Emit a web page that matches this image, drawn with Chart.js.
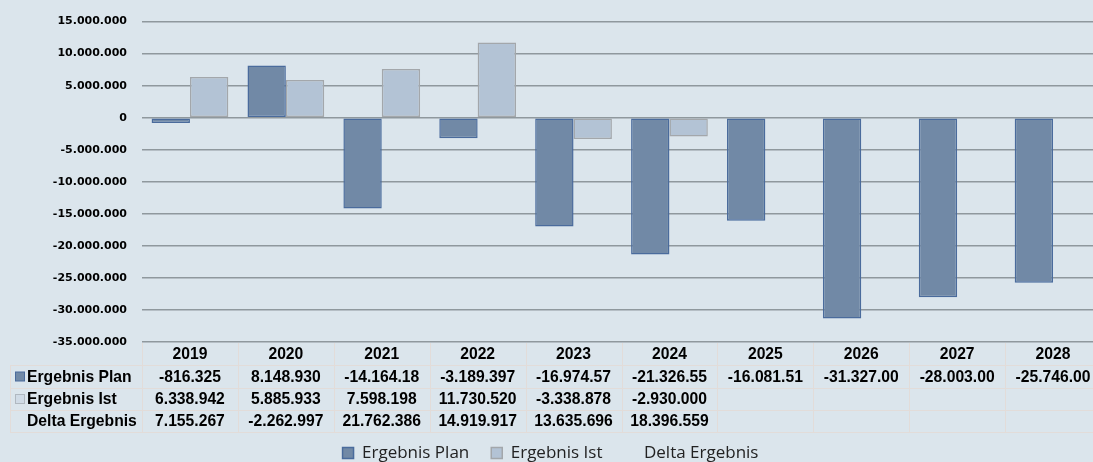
<!DOCTYPE html>
<html>
<head>
<meta charset="utf-8">
<script src="https://cdn.jsdelivr.net/npm/chart.js@4.4.1/dist/chart.umd.min.js"></script>
<style>
  html, body { margin: 0; padding: 0; overflow: hidden; background: #dbe5ec; }
  #wrap { width: 1102px; height: 462px; }
</style>
</head>
<body>
<div id="wrap"><canvas id="chart" width="1102" height="462"></canvas></div>
<script>
// Jahre und Werte aus dem Excel-Diagramm
const years = ["2019", "2020", "2021", "2022", "2023", "2024", "2025", "2026", "2027", "2028"];
const ergebnisPlan = [-816325, 8148930, -14164180, -3189397, -16974570, -21326550, -16081510, -31327000, -28003000, -25746000];
const ergebnisIst = [6338942, 5885933, 7598198, 11730520, -3338878, -2930000, null, null, null, null];
const deltaErgebnis = [7155267, -2262997, 21762386, 14919917, 13635696, 18396559, null, null, null, null];

const seriesNames = ["Ergebnis Plan", "Ergebnis Ist", "Delta Ergebnis"];
const planColor = "#7189a6";
const planBorder = "#4a6b9c";
const istColor = "#b3c3d5";
const istBorder = "#a3a7ab";

// Excel schneidet zu lange Zellinhalte ab
function cellText(v) {
  if (v === null || v === undefined) return "";
  return v.toLocaleString("de-DE").slice(0, 10);
}

// Hintergrund
const background = {
  id: "background",
  beforeDraw(chart) {
    const ctx = chart.ctx;
    ctx.save();
    ctx.fillStyle = "#dbe5ec";
    ctx.fillRect(0, 0, chart.width, chart.height);
    ctx.restore();
  }
};

// Datentabelle unter der Achse
const dataTable = {
  id: "dataTable",
  afterDraw(chart) {
    const ctx = chart.ctx;
    const x = chart.scales.x;
    const area = chart.chartArea;
    const colW = (area.right - area.left) / years.length;
    const rows = [area.bottom, area.bottom + 23, area.bottom + 46, area.bottom + 68, area.bottom + 90];
    const labelLeft = 10;

    ctx.save();
    ctx.strokeStyle = "#e2dcd9";
    ctx.lineWidth = 1;
    ctx.beginPath();
    for (let r = 1; r < rows.length; r++) {
      ctx.moveTo(labelLeft, rows[r] + 0.5);
      ctx.lineTo(chart.width, rows[r] + 0.5);
    }
    for (let i = 0; i <= years.length; i++) {
      const cx = Math.round(area.left + i * colW) + 0.5;
      ctx.moveTo(cx, rows[0] + 1);
      ctx.lineTo(cx, rows[4]);
    }
    ctx.moveTo(labelLeft + 0.5, rows[1]);
    ctx.lineTo(labelLeft + 0.5, rows[4]);
    ctx.stroke();

    ctx.fillStyle = "#000";
    ctx.font = "bold 15.7px 'Liberation Sans', Arial, sans-serif";
    ctx.textBaseline = "middle";
    ctx.textAlign = "center";
    const rowValues = [ergebnisPlan, ergebnisIst, deltaErgebnis];
    years.forEach((y, i) => {
      const cx = x.getPixelForValue(i);
      ctx.fillText(y, cx, (rows[0] + rows[1]) / 2 + 1);
      rowValues.forEach((vals, r) => {
        ctx.fillText(cellText(vals[i]), cx, (rows[r + 1] + rows[r + 2]) / 2 + 1);
      });
    });

    // Zeilenbeschriftungen mit Legendensymbol
    ctx.textAlign = "left";
    const keys = [[planColor, planBorder], ["#d0dbe6", "#b0b8c0"], null];
    seriesNames.forEach((name, r) => {
      const cy = (rows[r + 1] + rows[r + 2]) / 2;
      if (keys[r]) {
        ctx.fillStyle = keys[r][0];
        ctx.strokeStyle = keys[r][1];
        ctx.fillRect(15.5, cy - 4.5, 9, 9);
        ctx.strokeRect(15.5, cy - 4.5, 9, 9);
      }
      ctx.fillStyle = "#000";
      ctx.fillText(name, 27, cy + 1);
    });
    ctx.restore();
  }
};

new Chart(document.getElementById("chart"), {
  type: "bar",
  data: {
    labels: years,
    datasets: [
      {
        label: seriesNames[0],
        data: ergebnisPlan,
        backgroundColor: planColor,
        borderColor: planBorder,
        borderWidth: 1.5,
        borderSkipped: false
      },
      {
        label: seriesNames[1],
        data: ergebnisIst,
        backgroundColor: istColor,
        borderColor: istBorder,
        borderWidth: 1.5,
        borderSkipped: false
      },
      {
        type: "line",
        label: seriesNames[2],
        data: deltaErgebnis,
        showLine: false,
        pointRadius: 0,
        backgroundColor: "rgba(0,0,0,0)",
        borderColor: "rgba(0,0,0,0)"
      }
    ]
  },
  options: {
    responsive: false,
    animation: false,
    devicePixelRatio: 1,
    layout: { padding: { top: 14, right: 1, left: 0, bottom: -9.5 } },
    datasets: {
      bar: { categoryPercentage: 0.8, barPercentage: 1.0 }
    },
    scales: {
      x: {
        grid: { display: false },
        border: { display: false },
        ticks: { display: false },
        afterFit(scale) { scale.height = 80.5; }
      },
      y: {
        min: -35000000,
        max: 15000000,
        grid: { color: "#8f989d", lineWidth: 1.5, drawTicks: false },
        border: { display: false },
        ticks: {
          stepSize: 5000000,
          padding: 15,
          color: "#000",
          font: { family: "'DejaVu Sans'", size: 11, weight: "bold" },
          callback: (v) => Number(v).toLocaleString("de-DE")
        },
        afterFit(scale) { scale.width = 142; }
      }
    },
    plugins: {
      legend: {
        position: "bottom",
        labels: {
          boxWidth: 11,
          boxHeight: 11,
          padding: 22,
          color: "#222",
          font: { family: "'Open Sans'", size: 17 }
        }
      },
      tooltip: { enabled: false }
    }
  },
  plugins: [background, dataTable]
});
</script>
</body>
</html>
